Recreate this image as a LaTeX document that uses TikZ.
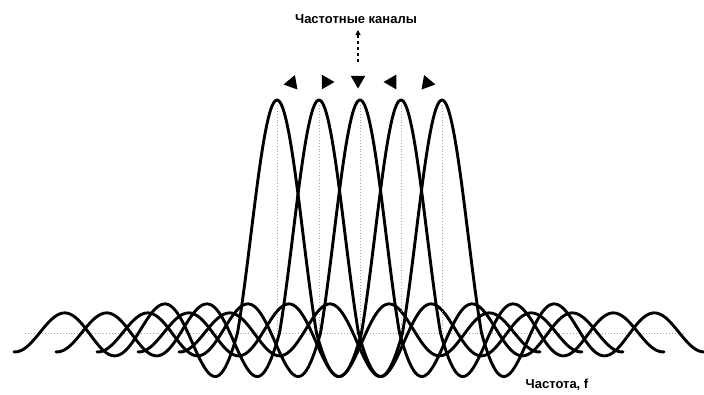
\documentclass[tikz,border=0pt]{standalone}
\usepackage{fontspec}
\setmainfont{Liberation Sans}
\usetikzlibrary{shapes.geometric,arrows.meta}
\begin{document}
\begin{tikzpicture}[x=1pt,y=-1pt,
  wave/.style={line width=2.9pt,black,line join=round,line cap=round},
  guide/.style={gray!70,line width=0.9pt,dotted},
  tri/.style={regular polygon,regular polygon sides=3,fill=black,inner sep=0pt,minimum size=17pt},
  lbl/.style={font=\bfseries\fontsize{13}{14}\selectfont,inner sep=0pt}]
\useasboundingbox (0,0) rectangle (704,394);
% baseline
\coordinate (bl) at (25,333);
\coordinate (br) at (685,333);
\draw[guide] (bl) -- (br);
% centre guides and curves
\foreach \c [count=\i] in {277,319,360,401,442}{
  \coordinate (top\i) at (\c,105);
  \coordinate (bot\i) at (\c,333);
  \draw[guide] (top\i) -- (bot\i);
  \draw[wave] plot[domain=-263:-39.5,samples=110]
       ({\c+\x},{333+(18+26*exp((62-abs(\x))/60))*sin(3.63636*(abs(\x)-39.5))})
     -- plot[domain=-39.3:39.3,samples=60]
       ({\c+\x},{333-233*sin(4.55696*\x)/(0.0795352*\x)})
     -- plot[domain=39.5:263,samples=110]
       ({\c+\x},{333+(18+26*exp((62-abs(\x))/60))*sin(3.63636*(abs(\x)-39.5))});
}
% markers
\node[tri,rotate=-20] (t1) at (292,83) {};
\node[tri,rotate=-90] (t2) at (326,82) {};
\node[tri,rotate=180] (t3) at (358,80) {};
\node[tri,rotate=90]  (t4) at (392,82) {};
\node[tri,rotate=20]  (t5) at (427,83) {};
% labels
\node[lbl] (chan) at (356,19) {Частотные каналы};
\coordinate (ar) at (358,62);
\coordinate (at) at (358,30);
\draw[line width=1.2pt,dashed,-{Triangle[length=5pt,width=5pt]}] (ar) -- (at);
\node[lbl] (freq) at (557,385) {Частота, f};
\end{tikzpicture}
\end{document}
